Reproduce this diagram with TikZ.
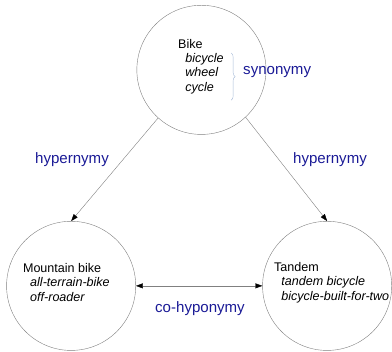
\documentclass[tikz,border=0pt]{standalone}
\usepackage{fontspec}
\setmainfont{Liberation Sans}
\usetikzlibrary{arrows.meta}
\usetikzlibrary{decorations.pathreplacing}
\definecolor{relblue}{RGB}{26, 26, 150}
\definecolor{bracegray}{RGB}{168, 188, 216}
\newcommand{\synword}[1]{\hspace*{0.25cm}\textit{#1}}

\begin{document}
\begin{tikzpicture}[line cap = round, line join = round,
  concept/.style = {circle, draw = gray, minimum size = 4.52cm, inner sep = 0},
  words/.style = {anchor = west, align = left, inner sep = 0,
    font = \fontsize{12.5}{14.3}\selectfont},
  relation/.style = {text = relblue, font = \fontsize{15}{18}\selectfont},
  >={Triangle[length = 7pt, width = 5pt, color = black]}]
  \useasboundingbox (0, 0) rectangle (13.72cm, 12.285cm);

  \node[concept] (bike) at (7.05cm, 9.84cm) {};
  \node[concept] (mountain) at (2.49cm, 2.28cm) {};
  \node[concept] (tandem) at (11.45cm, 2.28cm) {};

  \node[words] (biketext) at (6.23cm, 9.96cm)
    {Bike\\\synword{bicycle}\\\synword{wheel}\\\synword{cycle}};
  \node[words] (mountaintext) at (0.8cm, 2.4cm)
    {Mountain bike\\\synword{all-terrain-bike}\\\synword{off-roader}};
  \node[words] (tandemtext) at (9.59cm, 2.4cm)
    {Tandem\\\synword{tandem bicycle}\\\synword{bicycle-built-for-two}};

  \draw[bracegray, decorate, decoration = {brace, amplitude = 0.14cm}]
    (8.09cm, 10.43cm) -- (8.09cm, 8.78cm);
  \node[relation] (synonymy) at (9.7cm, 9.77cm) {synonymy};

  \draw[gray, ->] (bike.228) -- (mountain.north);
  \draw[gray, ->] (bike.313) -- (tandem.north);
  \draw[gray, <->] (mountain.east) -- (tandem.west);

  \node[relation] (hyperleft) at (2.52cm, 6.7cm) {hypernymy};
  \node[relation] (hyperright) at (11.55cm, 6.7cm) {hypernymy};
  \node[relation] (cohyponymy) at (7cm, 1.47cm) {co-hyponymy};
\end{tikzpicture}
\end{document}
